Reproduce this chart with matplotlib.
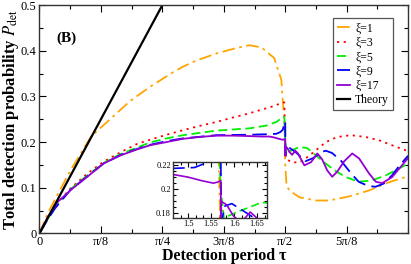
import matplotlib
matplotlib.use('Agg')
import matplotlib.pyplot as plt
from matplotlib.ticker import MultipleLocator, FixedLocator
import numpy as np

plt.rcParams['font.family'] = ['Liberation Serif', 'DejaVu Serif']
plt.rcParams['mathtext.fontset'] = 'stix'

# xi = 1
tau_1 = [0, 0.05, 0.1, 0.2, 0.33, 0.445, 0.58, 0.707, 0.85, 0.917, 1.0, 1.131, 1.25, 1.343,
         1.42, 1.50, 1.546, 1.555, 1.565, 1.5708, 1.579, 1.597, 1.661, 1.769, 1.852, 1.98,
         2.107, 2.234, 2.356]
p_1 = [0, 0.042, 0.075, 0.139, 0.212, 0.248, 0.29, 0.321, 0.352, 0.365, 0.378, 0.394, 0.405, 0.412,
       0.407, 0.384, 0.336, 0.29, 0.25, 0.15, 0.105, 0.094, 0.079, 0.072, 0.072, 0.081,
       0.094, 0.112, 0.125]

# xi = 3
tau_3 = [0, 0.05, 0.1, 0.2, 0.306, 0.41, 0.52, 0.625, 0.707, 0.813, 0.917, 1.02, 1.131, 1.24,
         1.343, 1.43, 1.49, 1.545, 1.565, 1.5708, 1.576, 1.608, 1.661, 1.712, 1.767, 1.831,
         1.903, 1.99, 2.085, 2.17, 2.253, 2.34, 2.356]
p_3 = [0, 0.031, 0.06, 0.099, 0.131, 0.157, 0.178, 0.196, 0.205, 0.216, 0.226, 0.235, 0.244, 0.254,
       0.263, 0.272, 0.278, 0.285, 0.287, 0.2, 0.164, 0.156, 0.155, 0.167, 0.182, 0.2,
       0.211, 0.215, 0.211, 0.204, 0.193, 0.182, 0.18]

# xi = 5
tau_5 = [0, 0.05, 0.1, 0.2, 0.306, 0.41, 0.52, 0.625, 0.707, 0.813, 0.917, 1.131, 1.343, 1.45,
         1.514, 1.545, 1.565, 1.5708, 1.578, 1.60, 1.66, 1.71, 1.78, 1.84, 1.90, 1.96, 2.04,
         2.126, 2.213, 2.298, 2.356]
p_5 = [0, 0.03, 0.058, 0.097, 0.127, 0.154, 0.174, 0.188, 0.199, 0.208, 0.215, 0.225, 0.23, 0.236,
       0.244, 0.252, 0.255, 0.2, 0.176, 0.18, 0.189, 0.187, 0.167, 0.15, 0.135, 0.123, 0.113,
       0.116, 0.127, 0.142, 0.153]

# xi = 9
tau_9 = [0, 0.05, 0.1, 0.2, 0.306, 0.41, 0.52, 0.625, 0.707, 0.813, 0.917, 1.131, 1.343, 1.45,
         1.514, 1.54, 1.555, 1.565, 1.5708, 1.572, 1.58, 1.595, 1.62, 1.64, 1.70, 1.75, 1.80,
         1.83, 1.87, 1.93, 1.99, 2.04, 2.10, 2.148, 2.20, 2.253, 2.30, 2.356]
p_9 = [0, 0.029, 0.055, 0.096, 0.125, 0.153, 0.172, 0.185, 0.194, 0.202, 0.208, 0.215, 0.216, 0.217,
       0.218, 0.222, 0.227, 0.24, 0.245, 0.172, 0.186, 0.188, 0.182, 0.177, 0.158, 0.165, 0.178,
       0.181, 0.176, 0.158, 0.132, 0.113, 0.104, 0.102, 0.109, 0.127, 0.148, 0.17]

# xi = 17
tau_17 = [0, 0.053, 0.117, 0.2, 0.306, 0.41, 0.52, 0.625, 0.707, 0.813, 0.917, 1.02, 1.131, 1.24,
          1.343, 1.42, 1.47, 1.50, 1.53, 1.555, 1.565, 1.5708, 1.5712, 1.5716, 1.584, 1.598,
          1.615, 1.635, 1.65, 1.693, 1.736, 1.776, 1.807, 1.839, 1.871, 1.903, 1.948, 1.999,
          2.043, 2.107, 2.15, 2.19, 2.253, 2.317, 2.356]
p_17 = [0, 0.036, 0.069, 0.095, 0.124, 0.153, 0.171, 0.184, 0.193, 0.2, 0.207, 0.211, 0.214, 0.214,
        0.213, 0.212, 0.212, 0.21, 0.207, 0.205, 0.206, 0.207, 0.17, 0.19, 0.187, 0.178,
        0.172, 0.181, 0.176, 0.149, 0.156, 0.175, 0.162, 0.138, 0.124, 0.135, 0.158, 0.175,
        0.164, 0.131, 0.113, 0.11, 0.123, 0.149, 0.165]

theory_tau = [0.0, 0.8]
theory_p = [0.0, 0.509]

series = [
    (tau_1, p_1, 'ξ=1', '#FFA500', (0, (7, 2.5, 1.5, 2.5))),
    (tau_3, p_3, 'ξ=3', '#FF0000', (0, (1.2, 2.5))),
    (tau_5, p_5, 'ξ=5', '#00EE00', (0, (5, 2.5))),
    (tau_9, p_9, 'ξ=9', '#0000FF', (0, (8, 3.5))),
    (tau_17, p_17, 'ξ=17', '#9400D3', '-'),
]

xticks = [0, np.pi / 8, np.pi / 4, 3 * np.pi / 8, np.pi / 2, 5 * np.pi / 8]
xticklabels = ['0', 'π/8', 'π/4', '3π/8', 'π/2', '5π/8']


def style_ticks(ax, size, length):
    ax.tick_params(which='both', direction='in', top=True, right=True, labelsize=size, width=0.8)
    ax.tick_params(which='major', length=length)
    ax.tick_params(which='minor', length=length * 0.55)
    for s in ax.spines.values():
        s.set_linewidth(1.0)
        s.set_color('#333333')


fig = plt.figure(figsize=(4.11, 2.64), dpi=100)
ax = fig.add_axes([0.096, 0.116, 0.897, 0.865])

for t, p, lab, col, ls in series:
    ax.plot(t, p, color=col, linestyle=ls, lw=1.3, label=lab)
ax.plot(theory_tau, theory_p, color='black', lw=1.6, label='Theory')

ax.set_xlim(0, 3 * np.pi / 4)
ax.set_ylim(0, 0.5)
ax.set_xticks(xticks)
ax.set_xticklabels(xticklabels)
ax.xaxis.set_minor_locator(MultipleLocator(np.pi / 16))
ax.yaxis.set_major_locator(FixedLocator([0, 0.1, 0.2, 0.3, 0.4, 0.5]))
ax.set_yticklabels(['0', '0.1', '0.2', '0.3', '0.4', '0.5'])
ax.yaxis.set_minor_locator(MultipleLocator(0.05))
style_ticks(ax, 9, 5)
ax.tick_params(axis='x', pad=2)
ax.tick_params(axis='y', pad=2)

ax.set_xlabel('Detection period τ', fontsize=11.5, fontweight='bold', labelpad=0)
ax.set_ylabel(r'Total detection probability $P_{\rm det}$', fontsize=12, fontweight='bold',
              labelpad=0)
ax.text(0.172, 0.428, '(B)', fontsize=11, fontweight='bold', ha='center', va='center')

leg = ax.legend(loc='upper right', bbox_to_anchor=(0.959, 0.942), borderaxespad=0,
                fontsize=8.5, handlelength=1.1, handletextpad=0.45, labelspacing=0.2,
                borderpad=0.35, fancybox=False, framealpha=1, edgecolor='#555555')
leg.get_frame().set_linewidth(0.9)

axin = fig.add_axes([0.421, 0.174, 0.229, 0.212])
for t, p, lab, col, ls in series:
    axin.plot(t, p, color=col, linestyle=ls, lw=1.2)
axin.set_xlim(1.467, 1.672)
axin.set_ylim(0.176, 0.2225)
axin.set_xticks([1.5, 1.55, 1.6, 1.65])
axin.set_xticklabels(['1.5', '1.55', '1.6', '1.65'])
axin.set_yticks([0.18, 0.2, 0.22])
axin.set_yticklabels(['0.18', '0.2', '0.22'])
axin.xaxis.set_minor_locator(MultipleLocator(0.05 / 3))
axin.yaxis.set_minor_locator(MultipleLocator(0.005))
style_ticks(axin, 6, 3.5)
axin.tick_params(axis='both', pad=1.5)

fig.savefig('out.png', dpi=100)
